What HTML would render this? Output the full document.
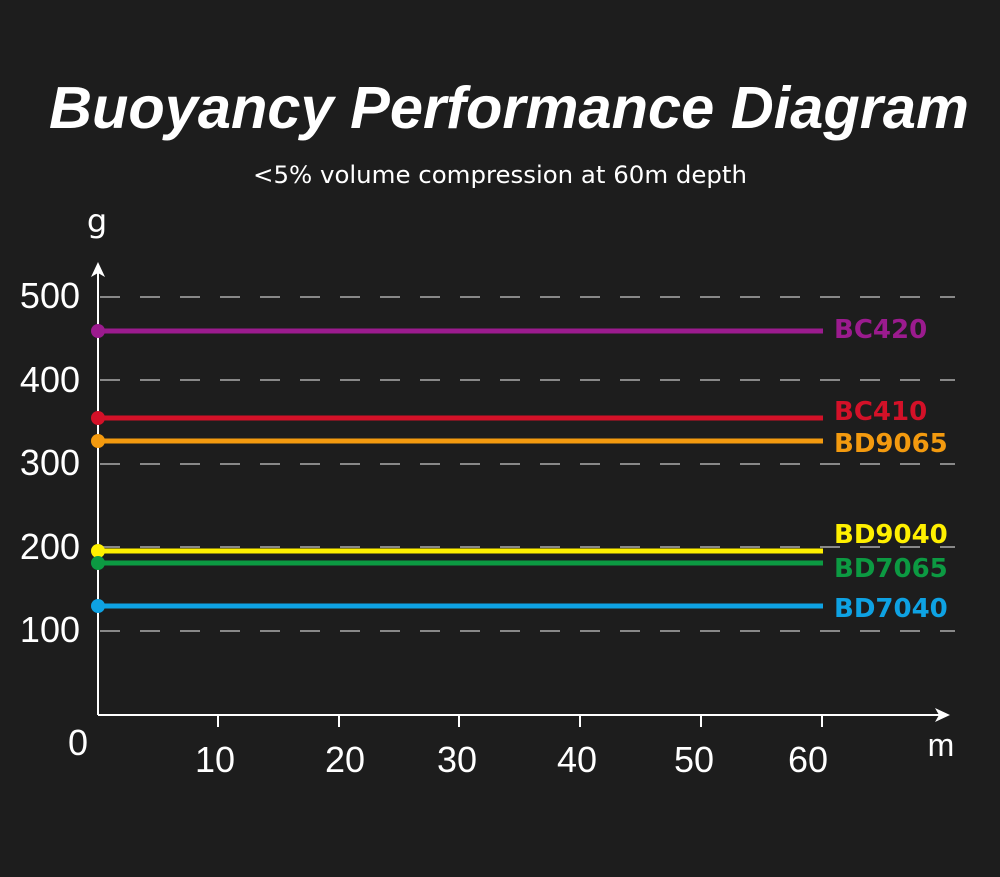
<!DOCTYPE html>
<html><head><style>
html,body{margin:0;padding:0;background:#1d1d1d;}
</style></head><body>
<svg width="1000" height="877" xmlns="http://www.w3.org/2000/svg" style="display:block">
<rect width="1000" height="877" fill="#1d1d1d"/>
<text x="509" y="128" text-anchor="middle" font-family="Liberation Sans, sans-serif" font-weight="bold" font-style="italic" font-size="59" textLength="920" lengthAdjust="spacingAndGlyphs" fill="#fff">Buoyancy Performance Diagram</text>
<text x="500" y="183" text-anchor="middle" font-family="DejaVu Sans, sans-serif" font-size="24" textLength="494" lengthAdjust="spacingAndGlyphs" fill="#fff">&lt;5% volume compression at 60m depth</text>
<text x="97" y="232" text-anchor="middle" font-family="DejaVu Sans, sans-serif" font-size="32" fill="#fff">g</text>
<g stroke="#888" stroke-width="2" stroke-dasharray="20,20">
<line x1="100" y1="297" x2="955" y2="297"/>
<line x1="100" y1="380" x2="955" y2="380"/>
<line x1="100" y1="464" x2="955" y2="464"/>
<line x1="100" y1="547" x2="955" y2="547"/>
<line x1="100" y1="631" x2="955" y2="631"/>
</g>
<g stroke="#fff" stroke-width="2">
<line x1="98" y1="268" x2="98" y2="715"/>
<line x1="98" y1="715" x2="940" y2="715"/>
<line x1="218" y1="715" x2="218" y2="727"/>
<line x1="339" y1="715" x2="339" y2="727"/>
<line x1="459" y1="715" x2="459" y2="727"/>
<line x1="580" y1="715" x2="580" y2="727"/>
<line x1="701" y1="715" x2="701" y2="727"/>
<line x1="822" y1="715" x2="822" y2="727"/>
</g>
<polygon points="98,262 91,277 98,273 105,277" fill="#fff"/>
<polygon points="950,715 935,708 939,715 935,722" fill="#fff"/>
<g font-family="Liberation Sans, sans-serif" font-size="36" fill="#fff" text-anchor="end">
<text x="80" y="308">500</text>
<text x="80" y="392">400</text>
<text x="80" y="475">300</text>
<text x="80" y="559">200</text>
<text x="80" y="642">100</text>
<text x="88" y="755">0</text>
</g>
<g font-family="Liberation Sans, sans-serif" font-size="36" fill="#fff" text-anchor="middle">
<text x="215" y="772">10</text>
<text x="345" y="772">20</text>
<text x="457" y="772">30</text>
<text x="577" y="772">40</text>
<text x="694" y="772">50</text>
<text x="808" y="772">60</text>
<text x="941" y="756" font-size="32">m</text>
</g>
<g stroke-width="5">
<line x1="98" y1="331" x2="823" y2="331" stroke="#9b1b8e"/>
<line x1="98" y1="418" x2="823" y2="418" stroke="#d31128"/>
<line x1="98" y1="441" x2="823" y2="441" stroke="#f39a0f"/>
<line x1="98" y1="551" x2="823" y2="551" stroke="#fff000"/>
<line x1="98" y1="563" x2="823" y2="563" stroke="#0c9a42"/>
<line x1="98" y1="606" x2="823" y2="606" stroke="#0ea2e3"/>
</g>
<circle cx="98" cy="331" r="7" fill="#9b1b8e"/>
<circle cx="98" cy="418" r="7" fill="#d31128"/>
<circle cx="98" cy="441" r="7" fill="#f39a0f"/>
<circle cx="98" cy="551" r="7" fill="#fff000"/>
<circle cx="98" cy="563" r="7" fill="#0c9a42"/>
<circle cx="98" cy="606" r="7" fill="#0ea2e3"/>
<g font-family="DejaVu Sans, sans-serif" font-weight="bold" font-size="26">
<text x="834" y="338" fill="#9b1b8e">BC420</text>
<text x="834" y="420" fill="#d31128">BC410</text>
<text x="834" y="452" fill="#f39a0f">BD9065</text>
<text x="834" y="543" fill="#fff000">BD9040</text>
<text x="834" y="577" fill="#0c9a42">BD7065</text>
<text x="834" y="617" fill="#0ea2e3">BD7040</text>
</g>
</svg>
</body></html>
